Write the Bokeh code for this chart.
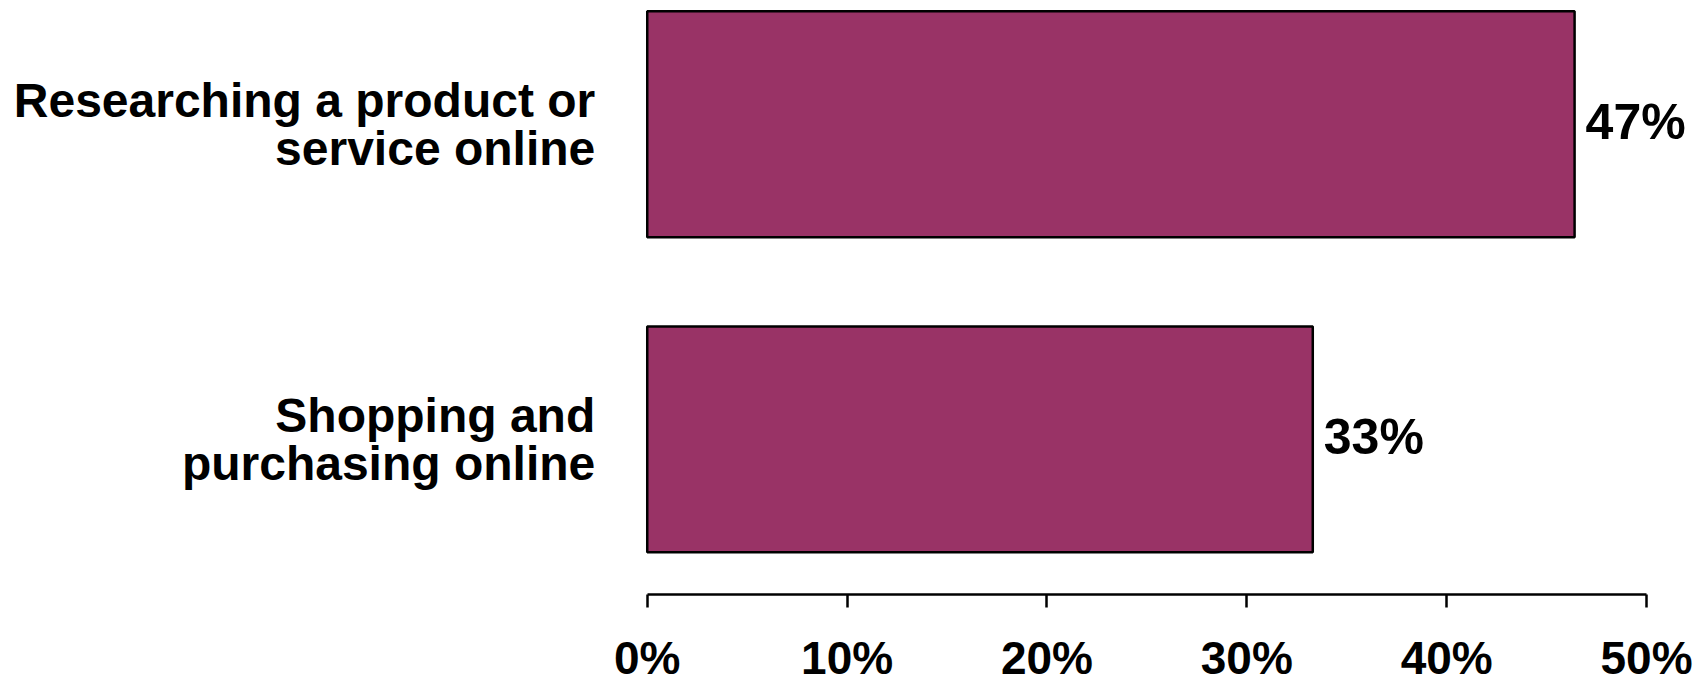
from bokeh.plotting import figure
from bokeh.models import Range1d, FixedTicker, ColumnDataSource
from bokeh.core.properties import value
from bokeh.embed import file_html
from bokeh.resources import INLINE

# ---- data ----
categories = ["Researching a product or\nservice online", "Shopping and\npurchasing online"]
shares = [46.4, 33.3]
share_labels = ["47%", "33%"]
x_ticks = [0, 10, 20, 30, 40, 50]
x_tick_labels = ["0%", "10%", "20%", "30%", "40%", "50%"]

FONT = "Liberation Sans"
BAR_COLOR = "#993366"

n = len(categories)
ys = [n - i - 0.5 for i in range(n)]

src = ColumnDataSource(dict(y=ys, share=shares, label=share_labels, cat=categories))

p = figure(width=1704, height=679, output_backend="svg", toolbar_location=None,
           x_range=Range1d(-32.36, 52.90), y_range=Range1d(-0.262, 1.893),
           min_border=0, min_border_left=0, min_border_right=0,
           min_border_top=0, min_border_bottom=0)
p.background_fill_color = "white"
p.border_fill_color = "white"
p.outline_line_color = None
p.xgrid.visible = False
p.ygrid.visible = False

p.hbar(y="y", left=0, right="share", height=0.717, source=src,
       fill_color=BAR_COLOR, line_color="black", line_width=2.5)

p.text(x="share", y="y", text="label", source=src,
       text_font=value(FONT), text_font_style="bold", text_font_size="50px",
       text_align="left", text_baseline="middle", x_offset=11, y_offset=-2,
       text_color="black")

# x axis
xa = p.xaxis[0]
xa.fixed_location = 0.0065
xa.bounds = (x_ticks[0], x_ticks[-1])
xa.ticker = FixedTicker(ticks=x_ticks)
xa.major_label_overrides = {t: l for t, l in zip(x_ticks, x_tick_labels)}
xa.axis_line_width = 2.5
xa.axis_line_color = "black"
xa.major_tick_line_width = 2.5
xa.major_tick_line_color = "black"
xa.major_tick_out = 13
xa.major_tick_in = 0
xa.minor_tick_line_color = None
xa.major_label_standoff = 24
xa.major_label_text_font = FONT
xa.major_label_text_font_style = "bold"
xa.major_label_text_font_size = "46px"
xa.major_label_text_color = "black"

# y axis (category labels)
ya = p.yaxis[0]
ya.fixed_location = 0
ya.ticker = FixedTicker(ticks=ys)
ya.major_label_overrides = {y: c for y, c in zip(ys, categories)}
ya.axis_line_color = None
ya.major_tick_line_color = None
ya.minor_tick_line_color = None
ya.major_tick_out = 0
ya.major_tick_in = 0
ya.major_label_standoff = 52
ya.major_label_text_font = FONT
ya.major_label_text_font_style = "bold"
ya.major_label_text_font_size = "48px"
ya.major_label_text_color = "black"
ya.major_label_text_line_height = 0.90

open("out.html", "w").write(file_html(p, INLINE))
